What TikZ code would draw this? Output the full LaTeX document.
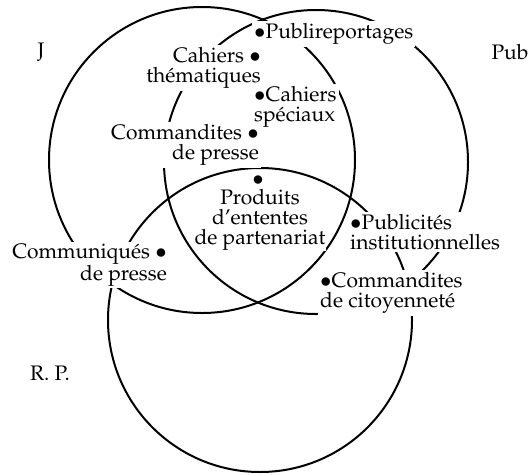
\documentclass[tikz,border=0pt]{standalone}
\usepackage[T1]{fontenc}
\usepackage{mathpazo}
\begin{document}
\begin{tikzpicture}[x=1pt,y=-1pt,
  ring/.style={draw=black,line width=2pt},
  lbl/.style={fill=white,inner sep=2pt,font=\fontsize{21}{20}\selectfont},
  setname/.style={inner sep=0pt,font=\fontsize{21}{20}\selectfont}]
\useasboundingbox (0,0) rectangle (532,474);
\node[setname] (cJ) at (202,160) {};
\node[setname] (cP) at (316,162) {};
\node[setname] (cR) at (260,320) {};
\draw[ring] (cJ) circle (153);
\draw[ring] (cP) circle (152);
\draw[ring] (cR) circle (152);
\node[setname] (J) at (41,52) {J};
\node[setname] (Pub) at (510,52) {Pub};
\node[setname] (RP) at (50,373) {R. P.};
\node[lbl,anchor=west] (pr) at (252,34) {$\bullet$Publireportages};
\node[lbl,anchor=east,align=right] (ct) at (263,68) {Cahiers $\bullet$\\th\'ematiques};
\node[lbl,anchor=west,align=left] (cs) at (252,107) {$\bullet$Cahiers\\sp\'eciaux};
\node[lbl,anchor=east,align=right] (cp) at (261,145) {Commandites $\bullet$\\de presse};
\node[setname] (pdot) at (258,181) {$\bullet$};
\node[lbl,inner sep=0.5pt,align=center] (pe) at (260,220) {Produits\\d'ententes\\de partenariat};
\node[lbl,anchor=east,align=right] (cm) at (169,265) {Communiqu\'es $\bullet$\\de presse};
\node[lbl,anchor=west,align=left] (pi) at (348,232) {$\bullet$Publicit\'es\\institutionnelles};
\node[lbl,anchor=west,align=left] (cc) at (318,293) {$\bullet$Commandites\\de citoyennet\'e};
\end{tikzpicture}
\end{document}
